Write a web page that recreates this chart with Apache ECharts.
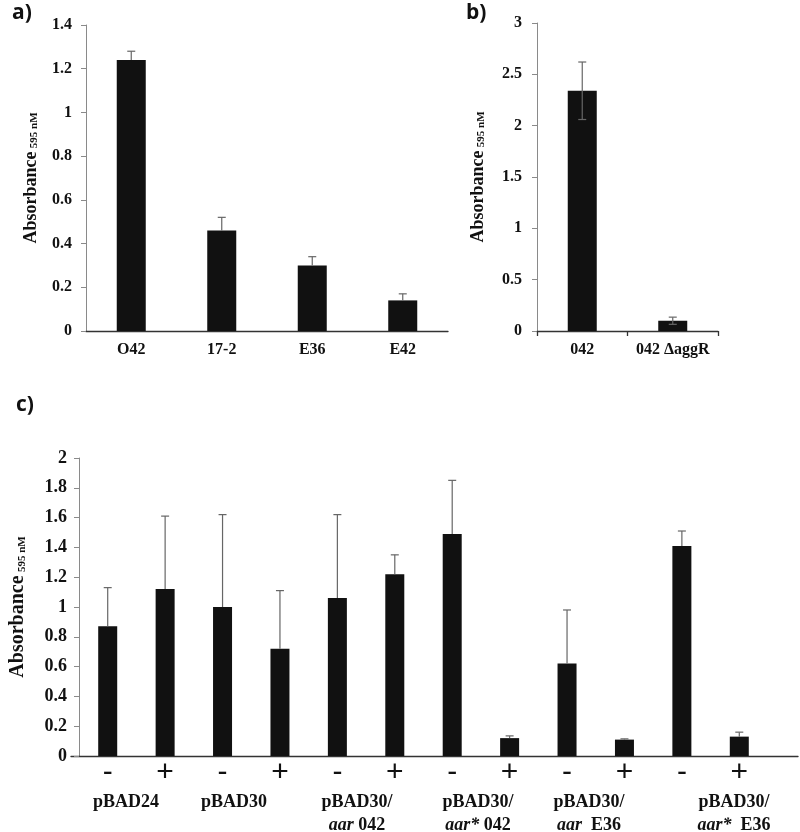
<!DOCTYPE html>
<html>
<head>
<meta charset="utf-8">
<script src="https://cdn.jsdelivr.net/npm/echarts@6/dist/echarts.min.js"></script>
<style>
html,body{margin:0;padding:0;background:#fff;}
#chart{width:800px;height:832px;}
</style>
</head>
<body>
<div id="chart"></div>
<script>
// ---- Data ----
const catsA = ['O42', '17-2', 'E36', 'E42'];
const valsA = [1.24, 0.46, 0.30, 0.14];
const errA = [0.04, 0.06, 0.04, 0.03];

const catsB = ['042', '042 \u0394aggR'];
const valsB = [2.34, 0.10];
const errB = [0.28, 0.035];

const catsC = ['pBAD24 -', 'pBAD24 +', 'pBAD30 -', 'pBAD30 +', 'aar042 -', 'aar042 +',
  'aar*042 -', 'aar*042 +', 'aarE36 -', 'aarE36 +', 'aar*E36 -', 'aar*E36 +'];
const signsC = ['-', '+', '-', '+', '-', '+', '-', '+', '-', '+', '-', '+'];
const valsC = [0.87, 1.12, 1.00, 0.72, 1.06, 1.22, 1.49, 0.12, 0.62, 0.11, 1.41, 0.13];
const errC = [0.26, 0.49, 0.62, 0.39, 0.56, 0.13, 0.36, 0.015, 0.36, 0.005, 0.10, 0.03];

const groupLabelsC = [
  'pBAD24',
  'pBAD30',
  'pBAD30/\n{i|aar} 042',
  'pBAD30/\n{i|aar*} 042',
  'pBAD30/\n{i|aar}  E36',
  'pBAD30/\n{i|aar*}  E36'
];

const yTicksA = { min: 0, max: 1.4, interval: 0.2 };
const yTicksB = { min: 0, max: 3, interval: 0.5 };
const yTicksC = { min: 0, max: 2, interval: 0.2 };

// ---- Styles ----
const SERIF = '"Liberation Serif", "Times New Roman", serif';
const BAR = '#111111';
const YLINE = '#8a8a8a';
const XLINE = '#333333';
const ERR = '#666666';

function errSeries(name, xi, yi, vals, errs, both) {
  return {
    type: 'custom', name: name, xAxisIndex: xi, yAxisIndex: yi, z: 5,
    data: vals.map((v, i) => [i, v, errs[i]]),
    renderItem: function (params, api) {
      const x = api.value(0), v = api.value(1), e = api.value(2);
      const hi = api.coord([x, v + e]);
      const lo = api.coord([x, both ? v - e : v]);
      const cap = 4;
      const children = [
        { type: 'line', shape: { x1: hi[0], y1: hi[1], x2: lo[0], y2: lo[1] }, style: { stroke: ERR, lineWidth: 1.2 } },
        { type: 'line', shape: { x1: hi[0] - cap, y1: hi[1], x2: hi[0] + cap, y2: hi[1] }, style: { stroke: ERR, lineWidth: 1.2 } }
      ];
      if (both) children.push({ type: 'line', shape: { x1: lo[0] - cap, y1: lo[1], x2: lo[0] + cap, y2: lo[1] }, style: { stroke: ERR, lineWidth: 1.2 } });
      return { type: 'group', children: children };
    }
  };
}

function yAxisCfg(gi, ticks, fontSize, nameGap, mainSize, subSize, labelMargin) {
  return {
    type: 'value', gridIndex: gi, min: ticks.min, max: ticks.max, interval: ticks.interval,
    axisLine: { show: true, lineStyle: { color: YLINE, width: 1 } },
    axisTick: { show: true, length: 5, lineStyle: { color: YLINE } },
    splitLine: { show: false },
    axisLabel: { color: '#111', fontFamily: SERIF, fontWeight: 'bold', fontSize: fontSize, margin: labelMargin },
    name: '{m|Absorbance} {s|595 nM}',
    nameLocation: 'middle', nameRotate: 90, nameGap: nameGap,
    nameTextStyle: {
      rich: {
        m: { fontFamily: SERIF, fontWeight: 'bold', fontSize: mainSize, color: '#111', verticalAlign: 'bottom' },
        s: { fontFamily: SERIF, fontWeight: 'bold', fontSize: subSize, color: '#111', verticalAlign: 'bottom' }
      }
    }
  };
}

const chart = echarts.init(document.getElementById('chart'), null, { renderer: 'canvas' });

const option = {
  animation: false,
  backgroundColor: '#fff',
  grid: [
    { left: 86, top: 25, width: 362, height: 306 },
    { left: 537, top: 23, width: 181, height: 308 },
    { left: 71, top: 458, width: 697, height: 298 },
    { left: 71, top: 458, width: 727, height: 298 }
  ],
  xAxis: [
    {
      type: 'category', gridIndex: 0, data: catsA,
      axisLine: { show: true, lineStyle: { color: XLINE, width: 1.3 } },
      axisTick: { show: false },
      axisLabel: { color: '#111', fontFamily: SERIF, fontWeight: 'bold', fontSize: 16, margin: 11, interval: 0 }
    },
    {
      type: 'category', gridIndex: 1, data: catsB,
      axisLine: { show: true, lineStyle: { color: XLINE, width: 1.3 } },
      axisTick: { show: true, length: 5, alignWithLabel: false, interval: 0, lineStyle: { color: XLINE, width: 1.3 } },
      axisLabel: { color: '#111', fontFamily: SERIF, fontWeight: 'bold', fontSize: 16, margin: 11, interval: 0, hideOverlap: false }
    },
    {
      type: 'category', gridIndex: 2, data: catsC,
      axisLine: { show: false },
      axisTick: { show: false },
      axisLabel: {
        color: '#111', fontFamily: '"Liberation Sans", Arial, sans-serif', fontSize: 30, margin: 2,
        interval: 0,
        formatter: function (v, i) { return signsC[i]; }
      }
    },
    {
      type: 'value', gridIndex: 3, min: 0, max: 1,
      axisLine: { show: true, lineStyle: { color: XLINE, width: 1.3 } },
      axisTick: { show: false }, axisLabel: { show: false }, splitLine: { show: false }
    }
  ],
  yAxis: [
    yAxisCfg(0, yTicksA, 16, 46, 18, 11, 14),
    yAxisCfg(1, yTicksB, 16, 50, 18, 11, 15),
    yAxisCfg(2, yTicksC, 18, 51, 20, 11, 12),
    { type: 'value', gridIndex: 3, show: false, min: 0, max: 1 }
  ],
  series: [
    { type: 'bar', xAxisIndex: 0, yAxisIndex: 0, data: valsA, barWidth: 29, itemStyle: { color: BAR } },
    errSeries('errA', 0, 0, valsA, errA, false),
    { type: 'bar', xAxisIndex: 1, yAxisIndex: 1, data: valsB, barWidth: 29, itemStyle: { color: BAR } },
    errSeries('errB', 1, 1, valsB, errB, true),
    { type: 'bar', xAxisIndex: 2, yAxisIndex: 2, data: valsC, barWidth: 19, itemStyle: { color: BAR } },
    errSeries('errC', 2, 2, valsC, errC, false)
  ],
  graphic: []
};

const panelFont = { fontFamily: '"Open Sans", "Noto Sans", sans-serif', fontWeight: 'bold', fontSize: 21, fill: '#111' };
option.graphic.push({ type: 'text', x: 12, y: 3, style: Object.assign({ text: 'a)' }, panelFont) });
option.graphic.push({ type: 'text', x: 466, y: 3, style: Object.assign({ text: 'b)' }, panelFont) });
option.graphic.push({ type: 'text', x: 16, y: 395, style: Object.assign({ text: 'c)' }, panelFont) });

const groupX = [126, 234, 357, 478, 589, 734];
groupLabelsC.forEach(function (t, i) {
  option.graphic.push({
    type: 'text', x: groupX[i], y: 791,
    style: {
      text: t, align: 'center', verticalAlign: 'top',
      fontFamily: SERIF, fontWeight: 'bold', fontSize: 18, lineHeight: 23, fill: '#111',
      rich: { i: { fontFamily: SERIF, fontWeight: 'bold', fontStyle: 'italic', fontSize: 18, lineHeight: 23, fill: '#111' } }
    }
  });
});

chart.setOption(option);
</script>
</body>
</html>
